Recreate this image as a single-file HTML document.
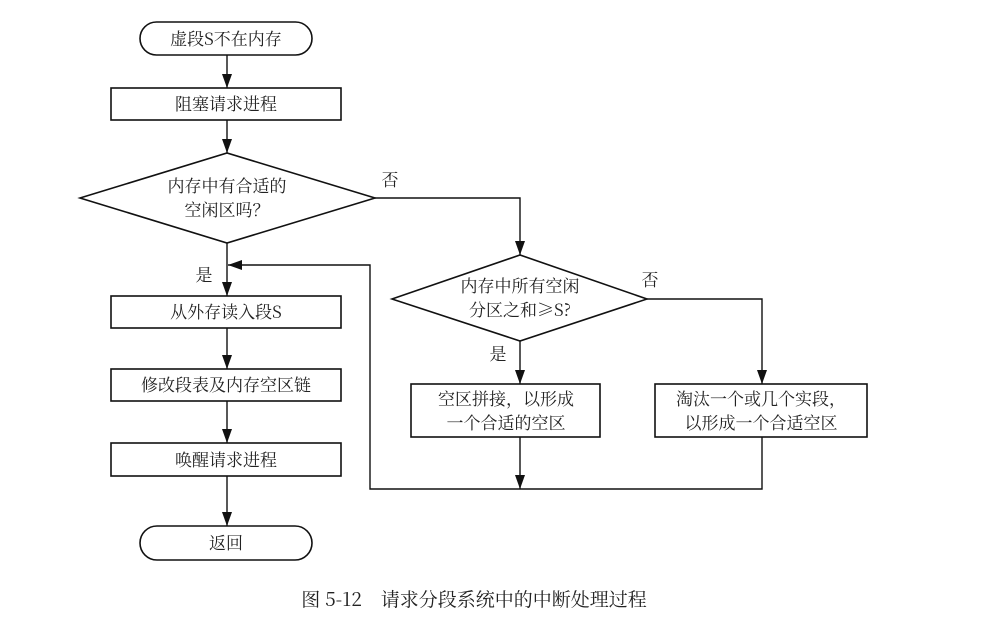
<!DOCTYPE html>
<html><head><meta charset="utf-8">
<style>
body{margin:0;background:#fff;}
svg text{font-family:"Noto Serif CJK SC","Noto Sans CJK SC",serif;font-size:17px;fill:#222;}
svg text.l{font-family:"Liberation Serif","Noto Serif CJK SC",serif;}
</style></head>
<body>
<svg width="994" height="617" viewBox="0 0 994 617" xmlns="http://www.w3.org/2000/svg">
<defs>
<marker id="a" markerWidth="14" markerHeight="10" refX="14" refY="5" orient="auto" markerUnits="userSpaceOnUse" viewBox="0 0 14 10">
<path d="M0,0 L14,5 L0,10 Z" fill="#111"/>
</marker>
</defs>
<g stroke="#111" stroke-width="1.6" fill="none">
<rect x="140" y="22" width="172" height="33" rx="16.5"/>
<rect x="111" y="88" width="230" height="32"/>
<polygon points="80,198 227,153 375,198 227,243"/>
<rect x="111" y="296" width="230" height="32"/>
<rect x="111" y="369" width="230" height="32"/>
<rect x="111" y="443" width="230" height="33"/>
<rect x="140" y="526" width="172" height="34" rx="17"/>
<polygon points="392,299 520,255 647,299 520,341"/>
<rect x="411" y="384" width="189" height="53"/>
<rect x="655" y="384" width="212" height="53"/>
</g>
<g stroke="#111" stroke-width="1.4" fill="none">
<line x1="227" y1="55" x2="227" y2="88" marker-end="url(#a)"/>
<line x1="227" y1="120" x2="227" y2="153" marker-end="url(#a)"/>
<line x1="227" y1="243" x2="227" y2="296" marker-end="url(#a)"/>
<line x1="227" y1="328" x2="227" y2="369" marker-end="url(#a)"/>
<line x1="227" y1="401" x2="227" y2="443" marker-end="url(#a)"/>
<line x1="227" y1="476" x2="227" y2="526" marker-end="url(#a)"/>
<polyline points="375,198 520,198 520,255" marker-end="url(#a)"/>
<polyline points="647,299 762,299 762,384" marker-end="url(#a)"/>
<line x1="520" y1="341" x2="520" y2="384" marker-end="url(#a)"/>
<line x1="520" y1="437" x2="520" y2="489" marker-end="url(#a)"/>
<polyline points="762,437 762,489 370,489 370,265 228,265" marker-end="url(#a)"/>
</g>
<g text-anchor="middle">
<text x="226" y="45">虚段S不在内存</text>
<text x="226" y="110">阻塞请求进程</text>
<text x="227" y="192">内存中有合适的</text>
<text x="227" y="216">空闲区吗？</text>
<text x="226" y="318">从外存读入段S</text>
<text x="226" y="391">修改段表及内存空区链</text>
<text x="226" y="466">唤醒请求进程</text>
<text x="226" y="549">返回</text>
<text x="520" y="292">内存中所有空闲</text>
<text x="520" y="316">分区之和≥S?</text>
<text x="506" y="405">空区拼接，以形成</text>
<text x="506" y="429">一个合适的空区</text>
<text x="761" y="405">淘汰一个或几个实段，</text>
<text x="761" y="429">以形成一个合适空区</text>
<text x="390" y="186">否</text>
<text x="204" y="281">是</text>
<text x="650" y="286">否</text>
<text x="498" y="360">是</text>
<text x="474" y="606" style="font-size:19px">图 5-12　请求分段系统中的中断处理过程</text>
</g>
</svg>
</body></html>
